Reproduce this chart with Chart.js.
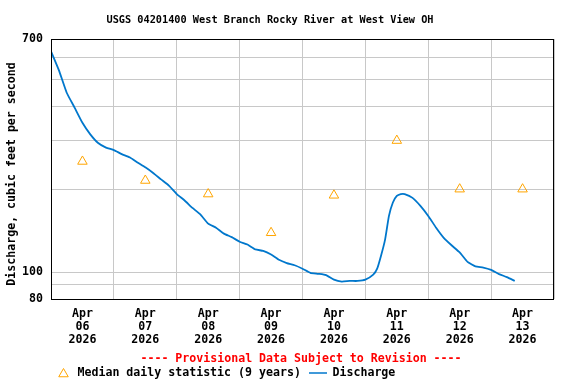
<!DOCTYPE html>
<html>
<head>
<meta charset="utf-8">
<title>USGS 04201400 West Branch Rocky River at West View OH</title>
<script src="https://cdn.jsdelivr.net/npm/chart.js@4/dist/chart.umd.min.js"></script>
<style>
  body { margin: 0; background: #fff; }
  canvas { display: block; }
</style>
</head>
<body>
<canvas id="grafico" width="576" height="384"></canvas>
<script>
const chartTitle = 'USGS 04201400 West Branch Rocky River at West View OH';
const notice = '---- Provisional Data Subject to Revision ----';
const yAxisTitle = 'Discharge, cubic feet per second';

// hours since Apr 06 00:00
const hours = [0, 3, 6, 9, 12, 15, 18, 21, 24, 27, 30, 33, 36, 39, 42, 45, 48, 51, 54, 57,
  60, 63, 66, 69, 72, 75, 78, 81, 84, 87, 90, 93, 96, 99, 102, 105, 108, 111, 114, 117,
  120, 123, 124.5, 126, 127.5, 129, 130.5, 132, 133.5, 135, 138, 141, 144, 147, 150, 153,
  156, 159, 162, 165, 168, 171, 174, 177];
const discharge = [632, 540, 447, 395, 348, 316, 294, 283, 277, 268, 261, 250, 240, 229, 217, 206, 192, 182, 171, 162,
  150, 145, 138, 134, 129, 126, 121, 119.5, 116, 111, 108, 106, 103, 99.5, 98.7, 97.7, 94, 92.5, 93, 93,
  94, 98, 103, 115, 131, 160, 179, 189, 192, 192, 186, 174, 160, 145, 133, 125,
  118, 109, 105, 104, 102, 98.5, 96, 93];

// median daily statistic, plotted at noon of each day
const medianHours = [12, 36, 60, 84, 108, 132, 156, 180];
const medianValues = [252, 215, 192, 139, 190, 300, 200, 200];

const month = 'Apr';
const year = '2026';
const days = ['06', '07', '08', '09', '10', '11', '12', '13'];
const yTicks = [80, 90, 100, 200, 300, 400, 500, 600, 700];
const yLabels = [80, 100, 700];

const mono = '"DejaVu Sans Mono", "Liberation Mono", monospace';
const gridGray = '#c8c8c8';
const blue = '#0077cc';
const orange = '#ffa500';

// ticks every 12 h: midnights carry the grid, noons carry the labels
const xTicks = days.flatMap((d, i) => [i * 24, i * 24 + 12]).concat(days.length * 24);

// frame, title, notice and legend
const usgsText = {
  id: 'usgsText',
  afterDraw(chart) {
    const ctx = chart.ctx;
    const a = chart.chartArea;
    ctx.save();

    ctx.strokeStyle = '#000';
    ctx.lineWidth = 1;
    ctx.strokeRect(Math.round(a.left) + 0.5, Math.round(a.top) + 0.5,
      Math.round(a.right - a.left) - 1, Math.round(a.bottom - a.top));

    ctx.fillStyle = '#000';
    ctx.textBaseline = 'middle';
    ctx.textAlign = 'center';
    ctx.font = 'bold 10.25px ' + mono;
    ctx.fillText(chartTitle, 270, 20);

    ctx.save();
    ctx.translate(12, 174);
    ctx.rotate(-Math.PI / 2);
    ctx.font = 'bold 11.6px ' + mono;
    ctx.fillText(yAxisTitle, 0, 0);
    ctx.restore();

    ctx.font = 'bold 11.6px ' + mono;
    ctx.fillStyle = '#ff0000';
    ctx.fillText(notice, 301, 359);

    // legend
    const ds = chart.data.datasets;
    ctx.textAlign = 'left';
    ctx.fillStyle = '#fff';
    ctx.strokeStyle = orange;
    ctx.lineWidth = 1;
    Chart.helpers.drawPoint(ctx, { pointStyle: 'triangle', radius: 5.5, borderWidth: 1 }, 63.5, 374);
    ctx.fillStyle = '#000';
    ctx.fillText(ds[0].label, 77.5, 373);

    ctx.strokeStyle = blue;
    ctx.lineWidth = 1.5;
    ctx.beginPath();
    ctx.moveTo(309, 373);
    ctx.lineTo(327, 373);
    ctx.stroke();
    ctx.fillText(ds[1].label, 332.5, 373);

    ctx.restore();
  }
};

const tickFont = { family: mono, size: 11.6, weight: 'bold', lineHeight: 1.14 };

new Chart(document.getElementById('grafico'), {
  type: 'line',
  data: {
    datasets: [{
      label: 'Median daily statistic (9 years)',
      data: medianHours.map((h, i) => ({ x: h, y: medianValues[i] })),
      showLine: false,
      pointStyle: 'triangle',
      pointRadius: 5.5,
      pointBorderWidth: 1,
      pointBorderColor: orange,
      pointBackgroundColor: 'rgba(255,255,255,0)'
    }, {
      label: 'Discharge',
      data: hours.map((h, i) => ({ x: h, y: discharge[i] })),
      borderColor: blue,
      borderWidth: 1.8,
      pointRadius: 0,
      tension: 0.15,
      fill: false
    }]
  },
  options: {
    responsive: false,
    animation: false,
    layout: { padding: { top: 39, right: 22, bottom: 0, left: 0 } },
    plugins: {
      legend: { display: false },
      title: { display: false },
      tooltip: { enabled: false }
    },
    scales: {
      x: {
        type: 'linear',
        min: 0,
        max: days.length * 24,
        afterBuildTicks: s => { s.ticks = xTicks.map(v => ({ value: v })); },
        afterFit: s => { s.height = 85; },
        border: { display: false },
        grid: {
          drawTicks: false,
          color: c => (c.tick && c.tick.value % 24 === 0) ? gridGray : 'rgba(0,0,0,0)'
        },
        ticks: {
          autoSkip: false,
          maxRotation: 0,
          padding: 8,
          color: '#000',
          font: tickFont,
          callback: v => v % 24 === 12 ? [month, days[(v - 12) / 24], year] : ''
        }
      },
      y: {
        type: 'logarithmic',
        min: 80,
        max: 700,
        afterBuildTicks: s => { s.ticks = yTicks.map(v => ({ value: v })); },
        afterFit: s => { s.width = 51; },
        border: { display: false },
        grid: { drawTicks: false, color: gridGray },
        ticks: {
          autoSkip: false,
          padding: 8,
          color: '#000',
          font: tickFont,
          callback: v => yLabels.includes(v) ? String(v) : ''
        }
      }
    }
  },
  plugins: [usgsText]
});
</script>
</body>
</html>
